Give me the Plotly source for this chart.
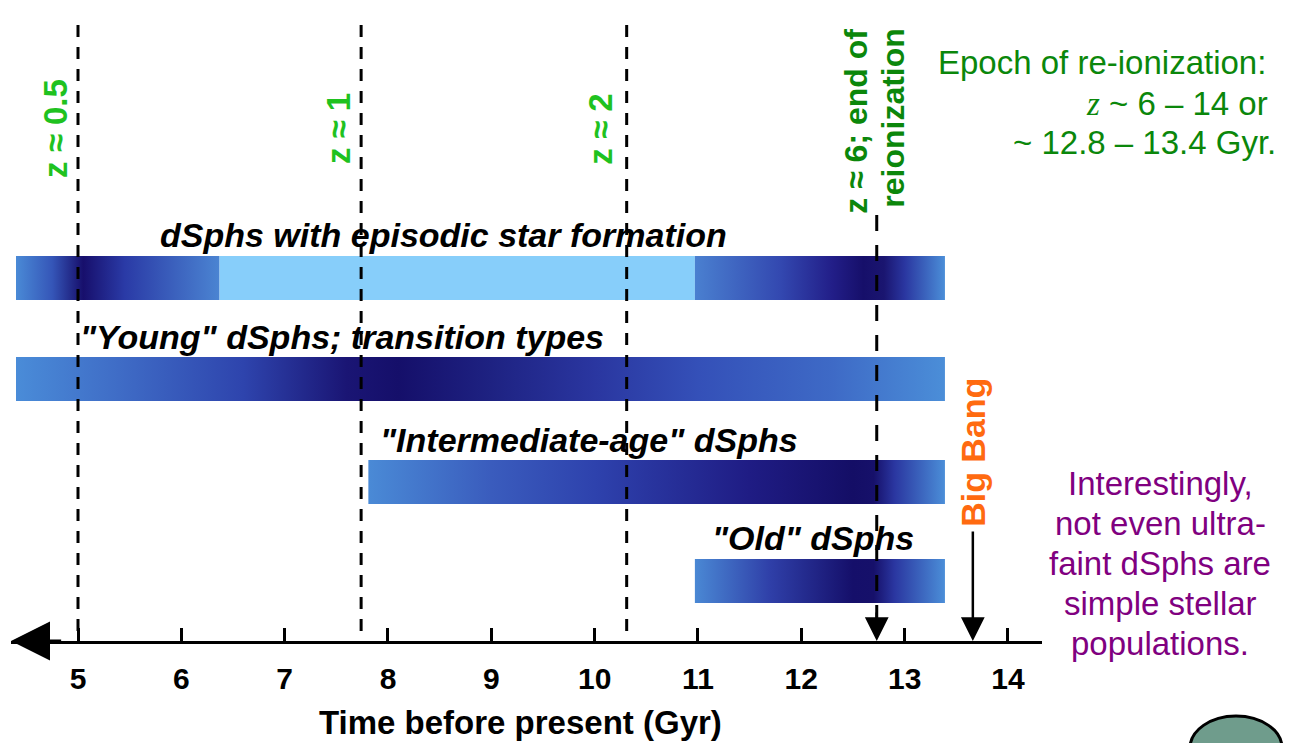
import plotly.graph_objects as go

# ---------------- data ----------------
tick_values = [5, 6, 7, 8, 9, 10, 11, 12, 13, 14]

redshift_labels = ["z ≈ 0.5", "z ≈ 1", "z ≈ 2"]
redshift_times = [5.0, 7.74, 10.31]          # Gyr before present
reion_label = ["z ≈ 6; end of", "reionization"]
reion_time = 12.73
big_bang_time = 13.66

bar_names = ['dSphs with episodic star formation',
             '"Young" dSphs; transition types',
             '"Intermediate-age" dSphs',
             '"Old" dSphs']
bar_starts = [4.40, 4.40, 7.81, 10.97]
bar_ends = [13.39, 13.39, 13.39, 13.39]
quiet_start = 6.37    # gap in the episodic bar
quiet_end = 10.97

epoch_lines = ["Epoch of re-ionization:",
               "<i><span style='font-family:Liberation Serif'>z</span></i> ~ 6 – 14 or",
               "~ 12.8 – 13.4 Gyr."]
note_lines = ["Interestingly,", "not even ultra-", "faint dSphs are",
              "simple stellar", "populations."]
axis_title = "Time before present (Gyr)"

# ---------------- style / layout ----------------
OFF = 8                      # page body margin of the html page
W, H = 1295 - OFF, 743 - OFF
AX_PX = 641                  # row of the time axis (screen pixels)
X0_PX, X1_PX = 11, 1042      # horizontal extent of the axis (screen pixels)
PX_PER_GYR = 103.33
XMIN = 5 - (78 - X0_PX) / PX_PER_GYR
XMAX = 5 + (X1_PX - 78) / PX_PER_GYR

bar_tops = [256, 357, 460, 559]
bar_h = 44

grad_episodic_left = [(4.40, "#4a8ad6"), (4.75, "#3556b8"), (5.05, "#170f6c"),
                      (5.45, "#2a3aa6"), (6.37, "#4b84d2")]
grad_episodic_right = [(10.97, "#4a80d0"), (11.8, "#3348b0"), (12.3, "#221e88"),
                       (12.6, "#160f6a"), (12.8, "#1a1570"), (13.0, "#2a36a0"),
                       (13.39, "#4b8ed8")]
grad_young = [(4.40, "#4a8cd8"), (5.4, "#3f6cc6"), (6.6, "#2e44ad"), (7.6, "#1a1574"),
              (8.1, "#150f6a"), (9.0, "#1e2282"), (10.0, "#2a36a0"), (11.0, "#3450b8"),
              (12.3, "#3e6ac6"), (13.39, "#4b8ed8")]
grad_inter = [(7.81, "#4a8ad6"), (9.0, "#3a5cbd"), (10.0, "#2e42ad"), (11.5, "#1f1c84"),
              (12.5, "#140e66"), (12.7, "#16106a"), (12.9, "#2a36a0"), (13.39, "#4b8ed8")]
grad_old = [(10.97, "#4a88d4"), (11.7, "#2f3fa8"), (12.5, "#150f6a"), (12.7, "#16106a"),
            (12.9, "#2a36a0"), (13.39, "#4b8ed8")]

GREEN_LIGHT = "#1fc21f"
GREEN_DARK = "#0b870b"
PURPLE = "#800080"
ORANGE = "#ff6a10"
FONT = "Liberation Sans"


def px_to_gyr(px):
    return 5 + (px - 78) / PX_PER_GYR


def pxx(px):   # screen x pixel -> paper
    return (px - OFF) / W


def pxy(py):   # screen y pixel -> paper
    return 1 - (py - OFF) / H


def gradient_piece(x0, x1, top, stops):
    span = x1 - x0
    cs = [[min(1.0, max(0.0, (p - x0) / span)), c] for p, c in stops]
    return go.Scatter(
        x=[x0, x1, x1, x0, x0], y=[top, top, top + bar_h, top + bar_h, top],
        mode="lines", fill="toself", line=dict(width=0),
        fillgradient=dict(type="horizontal", colorscale=cs, start=x0, stop=x1),
        hoverinfo="skip", showlegend=False)


fig = go.Figure()

fig.add_trace(gradient_piece(bar_starts[0], quiet_start, bar_tops[0], grad_episodic_left))
fig.add_trace(go.Scatter(
    x=[quiet_start, quiet_end, quiet_end, quiet_start, quiet_start],
    y=[bar_tops[0], bar_tops[0], bar_tops[0] + bar_h, bar_tops[0] + bar_h, bar_tops[0]],
    mode="lines", fill="toself", fillcolor="#87cefa", line=dict(width=0),
    hoverinfo="skip", showlegend=False))
fig.add_trace(gradient_piece(quiet_end, bar_ends[0], bar_tops[0], grad_episodic_right))
fig.add_trace(gradient_piece(bar_starts[1], bar_ends[1], bar_tops[1], grad_young))
fig.add_trace(gradient_piece(bar_starts[2], bar_ends[2], bar_tops[2], grad_inter))
fig.add_trace(gradient_piece(bar_starts[3], bar_ends[3], bar_tops[3], grad_old))

for t in redshift_times:
    fig.add_trace(go.Scatter(x=[t, t], y=[25, AX_PX], mode="lines",
                             line=dict(color="black", width=3, dash="12px,10px"),
                             hoverinfo="skip", showlegend=False))
fig.add_trace(go.Scatter(x=[reion_time, reion_time], y=[215, AX_PX - 20], mode="lines",
                         line=dict(color="black", width=3, dash="16px,14px"),
                         hoverinfo="skip", showlegend=False))

ann = []
label_px = [(158, 235), (78, 337), (378, 440), (710, 538)]
for name, (lx, ly) in zip(bar_names, label_px):
    ann.append(dict(x=px_to_gyr(lx), y=ly, xref="x", yref="y", xanchor="left",
                    yanchor="middle", text=f"<b><i>{name}</i></b>", showarrow=False,
                    font=dict(family=FONT, size=34, color="black")))

shifts = [-23, -23, -27]
for lab, t, s in zip(redshift_labels, redshift_times, shifts):
    ann.append(dict(x=t, y=129, xref="x", yref="y", xshift=s, text=f"<b>{lab}</b>",
                    textangle=-90, showarrow=False,
                    font=dict(family=FONT, size=33, color=GREEN_LIGHT)))
ann.append(dict(x=reion_time, y=121, xref="x", yref="y", xshift=-21,
                text=f"<b>{reion_label[0]}</b>", textangle=-90, showarrow=False,
                font=dict(family=FONT, size=32, color=GREEN_DARK)))
ann.append(dict(x=reion_time, y=118, xref="x", yref="y", xshift=16,
                text=f"<b>{reion_label[1]}</b>", textangle=-90, showarrow=False,
                font=dict(family=FONT, size=32, color=GREEN_DARK)))

ann.append(dict(x=big_bang_time, y=452, xref="x", yref="y", xshift=0, text="<b>Big Bang</b>",
                textangle=-90, showarrow=False,
                font=dict(family=FONT, size=34, color=ORANGE)))

arrow_common = dict(xref="x", yref="y", axref="x", ayref="y", text="", showarrow=True,
                    arrowcolor="black", standoff=0)
ann.append(dict(x=reion_time, y=AX_PX, ax=reion_time, ay=AX_PX - 30, arrowhead=2,
                arrowsize=1.9, arrowwidth=2.5, **arrow_common))
ann.append(dict(x=big_bang_time, y=AX_PX, ax=big_bang_time, ay=530, arrowhead=2,
                arrowsize=1.9, arrowwidth=2.5, **arrow_common))
ann.append(dict(x=XMIN, y=AX_PX, ax=XMIN + 0.5, ay=AX_PX, arrowhead=2,
                arrowsize=2.6, arrowwidth=3, **arrow_common))

ann.append(dict(x=pxx(520), y=pxy(722), xref="paper", yref="paper", text=f"<b>{axis_title}</b>",
                showarrow=False, xanchor="center", yanchor="middle",
                font=dict(family=FONT, size=33, color="black")))

for line, (rx, cy) in zip(epoch_lines, [(1268, 63), (1270, 103), (1278, 142)]):
    ann.append(dict(x=pxx(rx), y=pxy(cy), xref="paper", yref="paper", text=line,
                    showarrow=False, xanchor="right", yanchor="middle",
                    font=dict(family=FONT, size=33, color=GREEN_DARK)))

for i, line in enumerate(note_lines):
    cy = 483 + 40 * i
    ann.append(dict(x=pxx(1160), y=pxy(cy), xref="paper", yref="paper", text=line,
                    showarrow=False, xanchor="center", yanchor="middle",
                    font=dict(family=FONT, size=33, color=PURPLE)))

fig.update_layout(
    width=W, height=H, margin=dict(l=0, r=0, t=0, b=0),
    paper_bgcolor="white", plot_bgcolor="white",
    showlegend=False, annotations=ann,
    xaxis=dict(domain=[pxx(X0_PX), pxx(X1_PX)], range=[XMIN, XMAX],
               showline=True, linecolor="black", linewidth=3,
               ticks="inside", ticklen=13, tickwidth=2.5, tickcolor="black",
               tickvals=tick_values, ticklabelstandoff=9,
               tickfont=dict(family=FONT, size=30, color="black", weight="bold"),
               showgrid=False, zeroline=False, fixedrange=True),
    yaxis=dict(domain=[pxy(AX_PX), 1], range=[AX_PX, OFF], visible=False,
               showgrid=False, zeroline=False, fixedrange=True),
    shapes=[dict(type="circle", xref="paper", yref="paper",
                 x0=pxx(1190), x1=pxx(1282), y0=pxy(716), y1=pxy(780),
                 fillcolor="#6f9c8c", line=dict(color="black", width=3), layer="above")],
)

fig.write_html("out.html")
